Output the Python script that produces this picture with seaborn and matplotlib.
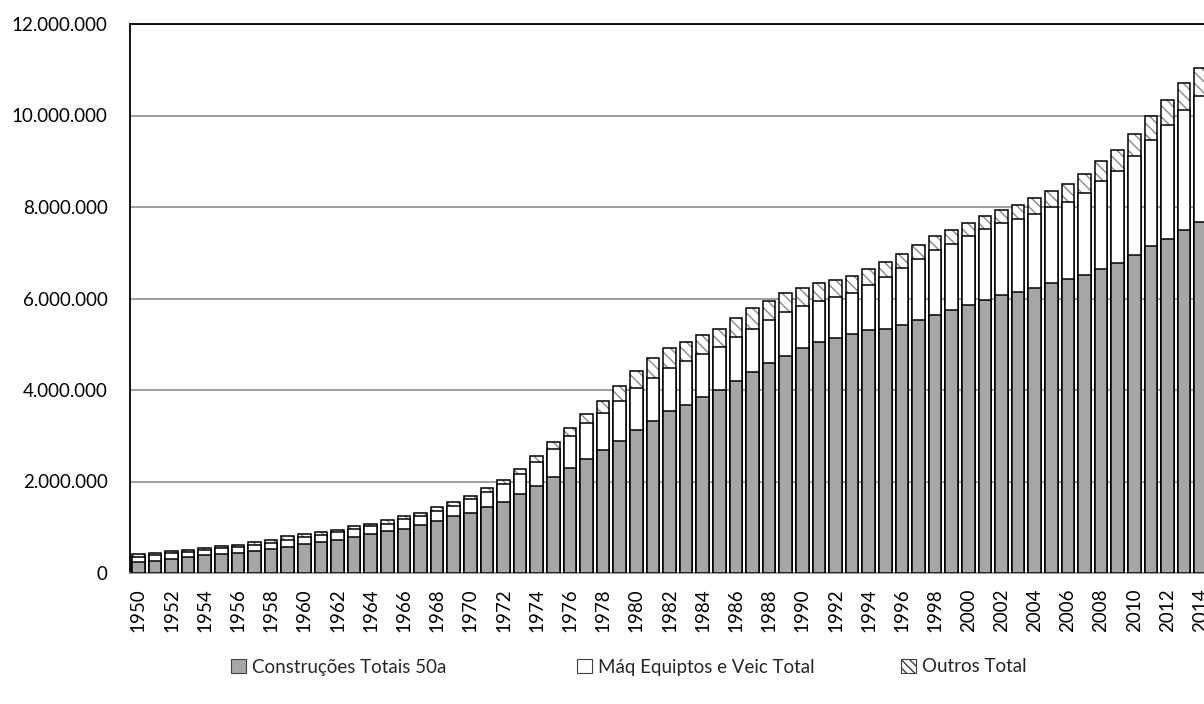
import matplotlib
matplotlib.use("Agg")
import matplotlib.pyplot as plt
import matplotlib.ticker as mticker
from matplotlib.patches import Patch
import numpy as np
import pandas as pd
import seaborn as sns

years = list(range(1950, 2015))

# values in millions
construcoes = [0.25, 0.27, 0.30, 0.35, 0.39, 0.42, 0.44, 0.47, 0.53, 0.57, 0.64, 0.68, 0.72, 0.78, 0.85,
               0.91, 0.97, 1.05, 1.14, 1.24, 1.32, 1.44, 1.56, 1.72, 1.91, 2.09, 2.30, 2.49, 2.69, 2.89, 3.12,
               3.33, 3.54, 3.68, 3.84, 4.01, 4.20, 4.40, 4.59, 4.75, 4.91, 5.04, 5.14, 5.23, 5.31, 5.34, 5.42,
               5.52, 5.63, 5.75, 5.86, 5.96, 6.07, 6.15, 6.24, 6.34, 6.43, 6.52, 6.65, 6.78, 6.96, 7.14, 7.31,
               7.49, 7.68]
maquinas = [0.11, 0.12, 0.13, 0.11, 0.11, 0.12, 0.13, 0.14, 0.13, 0.16, 0.15, 0.16, 0.17, 0.18, 0.17,
            0.17, 0.21, 0.19, 0.21, 0.23, 0.29, 0.32, 0.39, 0.44, 0.52, 0.62, 0.70, 0.78, 0.81, 0.88, 0.92,
            0.94, 0.95, 0.95, 0.95, 0.94, 0.95, 0.94, 0.94, 0.95, 0.93, 0.90, 0.89, 0.90, 0.98, 1.12, 1.24,
            1.35, 1.44, 1.45, 1.50, 1.55, 1.57, 1.58, 1.61, 1.65, 1.68, 1.78, 1.91, 2.00, 2.15, 2.33, 2.48,
            2.64, 2.74]
outros = [0.05, 0.05, 0.05, 0.05, 0.05, 0.05, 0.05, 0.06, 0.06, 0.07, 0.06, 0.06, 0.06, 0.07, 0.06,
          0.07, 0.06, 0.08, 0.09, 0.09, 0.08, 0.09, 0.09, 0.12, 0.12, 0.15, 0.17, 0.20, 0.27, 0.31, 0.38,
          0.42, 0.43, 0.43, 0.41, 0.39, 0.42, 0.45, 0.42, 0.43, 0.40, 0.39, 0.37, 0.36, 0.35, 0.34, 0.31,
          0.30, 0.30, 0.30, 0.29, 0.30, 0.30, 0.32, 0.34, 0.36, 0.39, 0.42, 0.44, 0.46, 0.48, 0.51, 0.54,
          0.59, 0.61]

labels = ["Construções Totais 50a", "Máq Equiptos e Veic Total", "Outros Total"]
yticks = [0, 2_000_000, 4_000_000, 6_000_000, 8_000_000, 10_000_000, 12_000_000]

df = pd.DataFrame({
    "ano": [str(y) for y in years],
    "cons": np.array(construcoes) * 1e6,
    "maq": np.array(maquinas) * 1e6,
    "out": np.array(outros) * 1e6,
})
df["l1"] = df["cons"]
df["l2"] = df["cons"] + df["maq"]
df["l3"] = df["l2"] + df["out"]

sns.set_theme(style="white")
plt.rcParams["font.family"] = ["Lato", "DejaVu Sans"]
plt.rcParams["hatch.linewidth"] = 1.0

fig = plt.figure(figsize=(12.04, 7.04), dpi=100)
ax = fig.add_axes([130 / 1204, (704 - 573) / 704, (1209 - 130) / 1204, (573 - 24) / 704])

W = 0.75
LW = 1.1
# hatched layer (total)
sns.barplot(data=df, x="ano", y="l3", color="white", edgecolor="#8a8a8a", hatch="\\\\\\",
            linewidth=0, width=W, saturation=1, ax=ax, zorder=3)
# outline of total
sns.barplot(data=df, x="ano", y="l3", fill=False, edgecolor="black",
            linewidth=LW, width=W, ax=ax, zorder=4)
# white layer
sns.barplot(data=df, x="ano", y="l2", color="white", edgecolor="black",
            linewidth=LW, width=W, saturation=1, ax=ax, zorder=5)
# gray layer
sns.barplot(data=df, x="ano", y="l1", color="#a6a6a6", edgecolor="black",
            linewidth=LW, width=W, saturation=1, ax=ax, zorder=6)

ax.set_xlim(-0.5, len(years) - 0.5)
ax.set_ylim(0, 12_000_000)
ax.set_yticks(yticks)
ax.yaxis.set_major_formatter(mticker.FuncFormatter(lambda v, p: f"{int(v):,}".replace(",", ".")))
ax.set_xticks(range(0, len(years), 2))
ax.set_xticklabels([str(y) for y in years[::2]], rotation=90)
ax.tick_params(axis="both", length=0, labelsize=13.5, colors="black")
ax.tick_params(axis="y", pad=16)
ax.tick_params(axis="x", pad=11)
ax.set_xlabel("")
ax.set_ylabel("")

ax.yaxis.grid(True, color="#8c8c8c", linewidth=1.2)
ax.xaxis.grid(False)
ax.set_axisbelow(True)
for s in ["top", "left"]:
    ax.spines[s].set_visible(True)
    ax.spines[s].set_color("black")
    ax.spines[s].set_linewidth(1.3)
ax.spines["bottom"].set_color("#8c8c8c")
ax.spines["bottom"].set_linewidth(1.2)
ax.spines["right"].set_visible(False)

handles = [
    Patch(facecolor="#a6a6a6", edgecolor="#404040", linewidth=0.8),
    Patch(facecolor="white", edgecolor="#404040", linewidth=0.8),
    Patch(facecolor="white", edgecolor="#404040", hatch="\\\\\\\\", linewidth=0.8),
]
xpos = [231, 577, 901]
for h, lab, xp in zip(handles, labels, xpos):
    fig.legend(handles=[h], labels=[lab], loc="center left",
               bbox_to_anchor=(xp / 1204, 1 - 667 / 704), frameon=False,
               borderpad=0, borderaxespad=0, handlelength=0.8, handleheight=0.8,
               handletextpad=0.3, fontsize=13.5)

fig.savefig("out.png", dpi=100)
